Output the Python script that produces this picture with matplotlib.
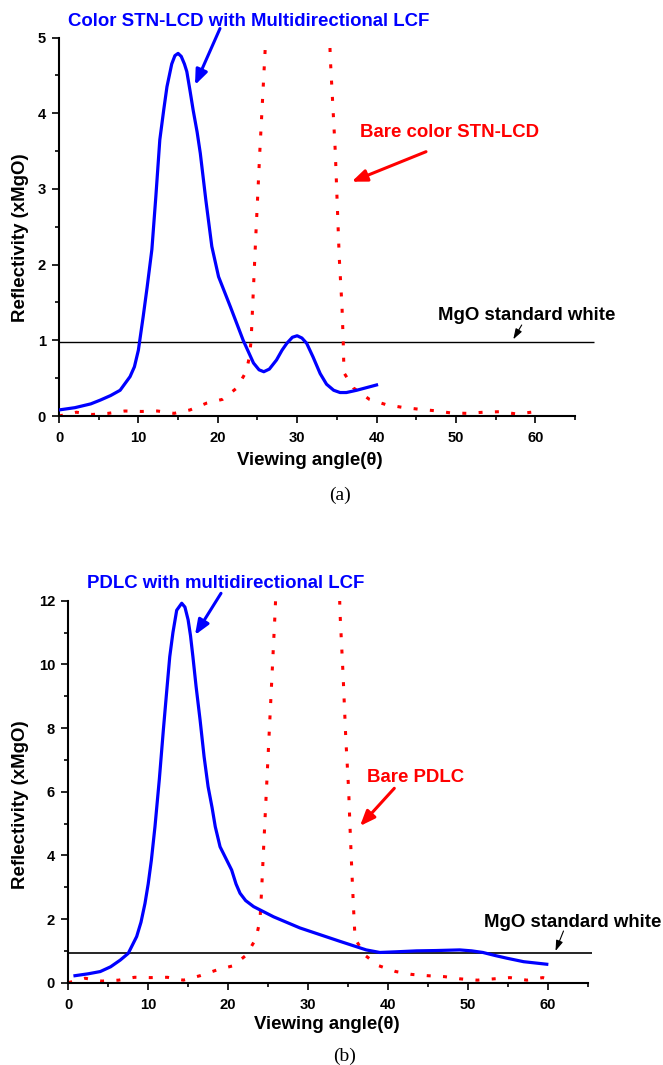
import matplotlib
matplotlib.use("Agg")
import matplotlib.pyplot as plt
from matplotlib.ticker import MultipleLocator

# ---------------- data ----------------
# (a) Color STN-LCD with multidirectional LCF
a_lcf_x = [0, 2, 4, 5.2, 6.5, 7.7, 8.95, 9.5, 10, 10.6, 11.1, 11.7, 12.2, 12.7, 13.2, 13.6,
           14.2, 14.6, 15.0, 15.4, 15.8, 16.1, 16.5, 16.9, 17.4, 17.8, 18.5, 19.25, 20.1,
           21.6, 23.2, 24.5, 25.2, 25.8, 26.5, 27.4, 28.1, 28.7, 29.4, 30, 30.6, 31.2, 32.0,
           32.9, 33.7, 34.6, 35.4, 36.2, 37.5, 40]
a_lcf_y = [0.08, 0.11, 0.16, 0.21, 0.27, 0.34, 0.52, 0.65, 0.87, 1.31, 1.7, 2.2, 2.9, 3.65,
           4.05, 4.35, 4.65, 4.76, 4.79, 4.75, 4.65, 4.55, 4.3, 4.04, 3.75, 3.47, 2.85, 2.24,
           1.84, 1.44, 1.0, 0.70, 0.61, 0.585, 0.62, 0.74, 0.87, 0.96, 1.04, 1.06, 1.03, 0.96,
           0.78, 0.56, 0.42, 0.34, 0.31, 0.31, 0.34, 0.41]
# (a) Bare color STN-LCD
a_bare_x = [0, 2.2, 4.2, 6.2, 8.3, 10.4, 12.4, 14.5, 16.5, 18.6, 20.6, 22.4, 23.6, 24.0, 24.2,
            24.5, 24.8, 25.3, 25.9, 26.3, 33.9, 34.2, 34.8, 35.3, 35.65, 35.8, 35.9, 37.1,
            39.1, 41.2, 43.2, 45.3, 47.3, 49.4, 51.4, 53.5, 55.6, 57.7, 60]
a_bare_y = [0, 0.05, 0.02, 0.035, 0.066, 0.06, 0.066, 0.035, 0.08, 0.17, 0.22, 0.37, 0.59,
            0.79, 1.0, 1.7, 2.4, 3.5, 4.7, 5.5, 5.5, 4.68, 3.5, 2.1, 1.44, 1.0, 0.57, 0.37,
            0.22, 0.15, 0.115, 0.09, 0.07, 0.04, 0.035, 0.05, 0.057, 0.026, 0.057]
a_mgo = 0.98

# (b) PDLC with multidirectional LCF
b_lcf_x = [0.84, 2.5, 4, 5.3, 6.5, 7.5, 8.56, 9.1, 9.6, 10.0, 10.4, 10.85, 11.4, 11.9, 12.3,
           12.7, 13.1, 13.57, 14.2, 14.6, 15.0, 15.3, 15.6, 16.0, 16.5, 17.0, 17.5, 18.0,
           18.4, 19.0, 20.45, 21.0, 21.5, 22.2, 23.2, 25.7, 29.0, 34.0, 37.3, 39.0, 41,
           43.6, 46, 49.0, 50.5, 51.9, 53.5, 54.9, 57, 59.9]
b_lcf_y = [0.22, 0.28, 0.35, 0.5, 0.71, 0.92, 1.45, 1.9, 2.49, 3.1, 3.85, 4.9, 6.4, 7.94,
           9.1, 10.24, 11.0, 11.7, 11.92, 11.8, 11.4, 10.9, 10.24, 9.3, 8.25, 7.1, 6.16, 5.5,
           4.9, 4.27, 3.54, 3.1, 2.81, 2.58, 2.39, 2.07, 1.72, 1.3, 1.03, 0.95, 0.97,
           1.0, 1.01, 1.03, 1.0, 0.95, 0.85, 0.77, 0.66, 0.58]
# (b) Bare PDLC
b_bare_x = [0, 2.1, 4.2, 6.3, 8.3, 10.3, 12.4, 14.4, 16.5, 18.6, 20.6, 22.3, 23.5, 24.0,
            24.2, 24.4, 24.6, 25.2, 25.9, 26.1, 33.9, 34.0, 34.4, 34.75, 35.1, 35.25, 35.5,
            35.7, 35.9, 37.1, 38.9, 41.0, 43.0, 45.0, 47.1, 49.1, 51.2, 53.2, 55.3, 57.4,
            59.4, 60]
b_bare_y = [0, 0.14, 0.05, 0.08, 0.17, 0.16, 0.17, 0.08, 0.22, 0.4, 0.53, 0.87, 1.39, 1.97,
            2.9, 3.96, 5.0, 8.1, 11.7, 13, 13, 11.7, 9.67, 7.62, 6.05, 5.0, 3.49,
            2.39, 1.39, 0.87, 0.53, 0.35, 0.26, 0.22, 0.19, 0.12, 0.08, 0.12, 0.16, 0.08,
            0.16, 0.12]
b_mgo = 0.94

# ---------------- figure ----------------
W, H = 663, 1065
fig = plt.figure(figsize=(W / 100, H / 100), dpi=100)
SANS = "Liberation Sans"
SERIF = "Liberation Serif"
FS = 13.4


def fp(x, y):
    """image pixel (from top-left) -> figure fraction"""
    return (x / W, 1 - y / H)


BLUE = (0, 0, 1)
RED = (1, 0, 0)
DOT = (0, (1.3, 4.04))


def style_axes(ax, ymax, ymaj, ymin):
    ax.set_xlim(0, 65)
    ax.set_ylim(0, ymax)
    for s in ("top", "right"):
        ax.spines[s].set_visible(False)
    for s in ("left", "bottom"):
        ax.spines[s].set_linewidth(1.5)
    ax.xaxis.set_major_locator(MultipleLocator(10))
    ax.xaxis.set_minor_locator(MultipleLocator(5))
    ax.yaxis.set_major_locator(MultipleLocator(ymaj))
    ax.yaxis.set_minor_locator(MultipleLocator(ymin))
    ax.tick_params(which="major", direction="out", length=5, width=1.2)
    ax.tick_params(which="minor", direction="out", length=2.8, width=1.2)
    ax.tick_params(axis="x", which="major", pad=6)
    ax.tick_params(axis="y", which="major", pad=4.5)
    for lab in ax.get_xticklabels() + ax.get_yticklabels():
        lab.set_fontfamily(SANS)
        lab.set_fontweight("bold")
        lab.set_fontsize(10.6)


def arrow(x0, y0, x1, y1, color, lw, hl, hw, ms):
    fig.add_artist(plt.Annotation(
        "", xy=fp(x1, y1), xytext=fp(x0, y0),
        xycoords="figure fraction", textcoords="figure fraction",
        arrowprops=dict(arrowstyle=f"-|>,head_length={hl},head_width={hw}",
                        color=color, lw=lw, shrinkA=0, shrinkB=0,
                        mutation_scale=ms)))


def ftext(x, y, s, color, size=FS, family=SANS, weight="bold", ha="left"):
    fig.text(*fp(x, y), s, color=color, fontsize=size, family=family,
             fontweight=weight, ha=ha, va="baseline")


# ---- (a) ----
ax1 = fig.add_axes([59 / W, 1 - 416 / H, 516 / W, 378.5 / H])
ax1.plot(a_lcf_x, a_lcf_y, color=BLUE, lw=2.3, solid_joinstyle="round", zorder=3)
ax1.plot(a_bare_x, a_bare_y, color=RED, lw=2.2, linestyle=DOT, zorder=2)
ax1.hlines(a_mgo, 0, 67.4, color="black", lw=1.0, clip_on=False, zorder=1)
style_axes(ax1, 5, 1, 0.5)
ax1.set_xlabel("Viewing angle(θ)", family=SANS, fontweight="bold", fontsize=FS, va="baseline")
ax1.xaxis.set_label_coords((310 - 59) / 516, (416 - 465) / 378.5)
ax1.set_ylabel("Reflectivity (xMgO)", family=SANS, fontweight="bold", fontsize=FS, va="baseline")
ax1.yaxis.set_label_coords((25 - 59) / 516, (416 - 238) / 378.5)

ftext(68.3, 26, "Color STN-LCD with Multidirectional LCF", BLUE)
arrow(220, 28.5, 195, 85, BLUE, 2.2, 0.5, 0.2, 18)
ftext(360, 137, "Bare color STN-LCD", RED)
arrow(426, 151.7, 351.7, 181.7, RED, 2.2, 0.5, 0.2, 18)
ftext(438.3, 320, "MgO standard white", "black")
arrow(521.7, 325, 513.3, 339.3, "black", 0.8, 0.45, 0.15, 14)
ftext(340, 500, "(a)", "black", size=14, family=SERIF, weight="normal", ha="center")

# ---- (b) ----
ax2 = fig.add_axes([68.3 / W, 1 - 982.7 / H, 519.2 / W, 382 / H])
ax2.plot(b_lcf_x, b_lcf_y, color=BLUE, lw=2.3, solid_joinstyle="round", zorder=3)
ax2.plot(b_bare_x, b_bare_y, color=RED, lw=2.2, linestyle=DOT, zorder=2)
ax2.hlines(b_mgo, 0, 65.6, color="black", lw=1.2, clip_on=False, zorder=1)
style_axes(ax2, 12, 2, 1)
ax2.set_xlabel("Viewing angle(θ)", family=SANS, fontweight="bold", fontsize=FS, va="baseline")
ax2.xaxis.set_label_coords((327 - 68.3) / 519.2, (982.7 - 1029) / 382)
ax2.set_ylabel("Reflectivity (xMgO)", family=SANS, fontweight="bold", fontsize=FS, va="baseline")
ax2.yaxis.set_label_coords((25.5 - 68.3) / 519.2, (982.7 - 805) / 382)

ftext(86.7, 588.3, "PDLC with multidirectional LCF", BLUE)
arrow(221, 593.3, 195, 635, BLUE, 2.2, 0.5, 0.2, 18)
ftext(366.7, 781.7, "Bare PDLC", RED)
arrow(394.3, 788.3, 360, 826, RED, 2.2, 0.5, 0.2, 18)
ftext(484.3, 927, "MgO standard white", "black")
arrow(563.5, 931, 555.5, 951, "black", 0.8, 0.45, 0.15, 14)
ftext(345, 1061, "(b)", "black", size=14, family=SERIF, weight="normal", ha="center")

fig.savefig("out.png", dpi=100)
